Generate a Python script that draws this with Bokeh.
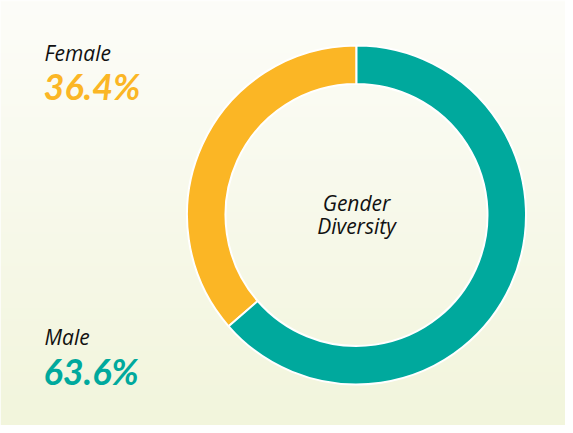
import numpy as np
from bokeh.plotting import figure
from bokeh.models import Range1d, ColumnDataSource
from bokeh.core.properties import value
from bokeh.embed import file_html
from bokeh.resources import INLINE

# ---- data ----
categories = ["Female", "Male"]
shares = [36.4, 63.6]
labels = ["36.4%", "63.6%"]
colors = ["#FBB625", "#00A99D"]
center_title = ["Gender", "Diversity"]

W, H = 565, 425
p = figure(width=W, height=H, output_backend="svg", toolbar_location=None,
           x_range=Range1d(0, W), y_range=Range1d(0, H), min_border=0)
p.axis.visible = False
p.grid.visible = False
p.outline_line_color = None
p.background_fill_color = "#FFFFFF"
p.border_fill_color = "#FFFFFF"

# vertical gradient background
n = 200
top = np.array([253, 253, 249])
bot = np.array([242, 245, 220])
t = np.linspace(0, 1, n)[:, None]  # row 0 = bottom
rgb = (bot * (1 - t) + top * t).astype(np.uint8)
img = np.zeros((n, 1), dtype=np.uint32)
view = img.view(dtype=np.uint8).reshape((n, 1, 4))
view[:, 0, 0] = rgb[:, 0]
view[:, 0, 1] = rgb[:, 1]
view[:, 0, 2] = rgb[:, 2]
view[:, 0, 3] = 255
p.image_rgba(image=[img], x=0, y=0, dw=W, dh=H)

# donut
cx, cy = 356, 210.5
fr = np.array(shares) / sum(shares)
cum = np.concatenate([[0], np.cumsum(fr)])
start = np.pi / 2 + cum[:-1] * 2 * np.pi
end = np.pi / 2 + cum[1:] * 2 * np.pi
src = ColumnDataSource(dict(start=start, end=end, color=colors, cat=categories))
p.annular_wedge(x=cx, y=cy, inner_radius=131, outer_radius=169.5,
                start_angle="start", end_angle="end", direction="anticlock",
                fill_color="color", line_color="white", line_width=2, source=src)

lab_font = value("Open Sans")
num_font = value("Lato")
# left labels
p.text(x=[44, 44], y=[373, 89], text=categories, text_font=lab_font,
       text_font_style="italic", text_font_size="21px", text_color="#111111",
       text_baseline="alphabetic", text_align="left")
p.text(x=[43, 43], y=[340, 55], text=labels, text_font=num_font,
       text_font_style="bold italic", text_font_size="36px", text_color=colors,
       text_baseline="alphabetic", text_align="left")
# center title
p.text(x=[cx, cx], y=[223, 200], text=center_title, text_font=lab_font,
       text_font_style="italic", text_font_size="21px", text_color="#111111",
       text_baseline="alphabetic", text_align="center")

open("out.html", "w").write(file_html(p, INLINE))
